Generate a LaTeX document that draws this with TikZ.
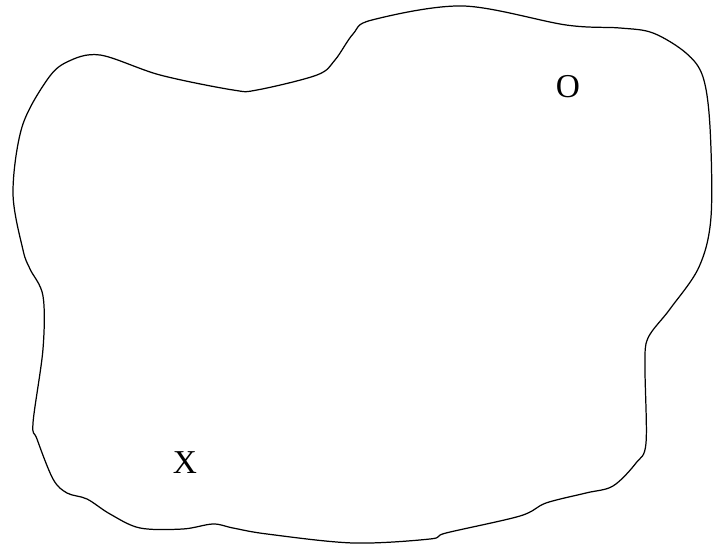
\documentclass[tikz,border=0pt]{standalone}
\usepackage{fontspec}
\setmainfont{Liberation Serif}
\usepackage{tikz}
\usetikzlibrary{positioning}

\begin{document}
\begin{tikzpicture}[x=0.02cm,y=-0.02cm]
        \useasboundingbox (0,0) rectangle (713,546);

        % outline of the region
        \draw[line width=0.7pt, line join=round] plot[smooth cycle, tension=0.55] coordinates {
            (22,127) (47,80) (67,62) (100,55) (160,75) (233,90) (257,90)
            (317,75) (335,60) (353,34) (372,20) (463,6) (566,25) (620,28)
            (653,33) (686,53) (703,77) (710,127) (711,217) (699,267)
            (670,309) (648,338) (645,366) (646,443) (636,463) (613,486)
            (586,493) (546,503) (520,516) (446,533) (430,539) (353,543)
            (267,534) (233,528) (213,524) (183,529) (140,528) (110,514)
            (87,499) (67,493) (53,479) (37,439) (33,423) (43,349)
            (43,296) (30,269) (23,250) (13,193)};

        \node[font=\fontsize{19}{21}\selectfont] (o) at (568,87) {O};
        \node[font=\fontsize{19}{21}\selectfont] (x) at (185,463) {X};
\end{tikzpicture}
\end{document}
